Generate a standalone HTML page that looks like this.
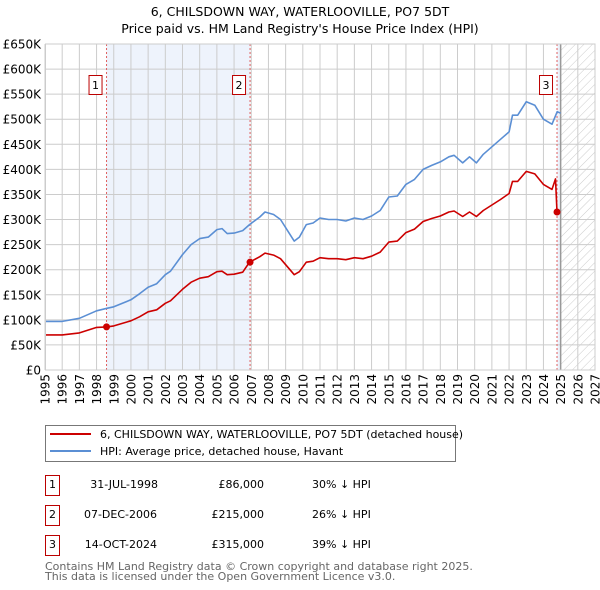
<!DOCTYPE html>
<html><head><meta charset="utf-8"><style>
body{margin:0;background:#fff;font-family:"DejaVu Sans","Liberation Sans",sans-serif;}
svg{display:block}
</style></head><body>
<svg width="600" height="590" xmlns="http://www.w3.org/2000/svg" font-family="DejaVu Sans, Liberation Sans, sans-serif">
<defs><pattern id="hatch" width="6" height="6" patternUnits="userSpaceOnUse" patternTransform="rotate(45)"><line x1="0" y1="0" x2="0" y2="6" stroke="#ccc" stroke-width="1"/></pattern></defs>
<text x="300" y="16" text-anchor="middle" font-size="12.5">6, CHILSDOWN WAY, WATERLOOVILLE, PO7 5DT</text>
<text x="300" y="33" text-anchor="middle" font-size="12.5">Price paid vs. HM Land Registry's House Price Index (HPI)</text>
<g id="plot"></g>
<g>
<rect x="45.5" y="425.5" width="410" height="36" fill="#fff" stroke="#777"/>
<line x1="50" y1="434" x2="91" y2="434" stroke="#cc0000" stroke-width="2"/>
<text x="100" y="438" font-size="11">6, CHILSDOWN WAY, WATERLOOVILLE, PO7 5DT (detached house)</text>
<line x1="50" y1="451" x2="91" y2="451" stroke="#5b8fd4" stroke-width="2"/>
<text x="100" y="455" font-size="11">HPI: Average price, detached house, Havant</text>
</g>
<g font-size="11">
<rect x="45.5" y="475.5" width="14" height="20" fill="#fff" stroke="#b00"/><text x="52.5" y="488" text-anchor="middle">1</text>
<text x="158" y="488" text-anchor="end">31-JUL-1998</text><text x="264" y="488" text-anchor="end">£86,000</text><text x="312" y="488">30% ↓ HPI</text>
<rect x="45.5" y="505.5" width="14" height="20" fill="#fff" stroke="#b00"/><text x="52.5" y="518" text-anchor="middle">2</text>
<text x="157" y="518" text-anchor="end">07-DEC-2006</text><text x="264" y="518" text-anchor="end">£215,000</text><text x="312" y="518">26% ↓ HPI</text>
<rect x="45.5" y="535.5" width="14" height="20" fill="#fff" stroke="#b00"/><text x="52.5" y="548" text-anchor="middle">3</text>
<text x="157" y="548" text-anchor="end">14-OCT-2024</text><text x="264" y="548" text-anchor="end">£315,000</text><text x="312" y="548">39% ↓ HPI</text>
</g>
<text x="45" y="570" font-size="11" fill="#666">Contains HM Land Registry data © Crown copyright and database right 2025.</text>
<text x="45" y="580" font-size="11" fill="#666">This data is licensed under the Open Government Licence v3.0.</text>
</svg>
<script>
const hpiYears=[1995,1996,1997,1998,1998.6,1999,2000,2000.5,2001,2001.5,2002,2002.3,2003,2003.5,2004,2004.5,2005,2005.3,2005.6,2006,2006.5,2006.9,2007.5,2007.8,2008.3,2008.7,2009.2,2009.5,2009.8,2010.2,2010.6,2011,2011.5,2012,2012.5,2013,2013.5,2014,2014.5,2015,2015.5,2016,2016.5,2017,2017.5,2018,2018.5,2018.8,2019.3,2019.7,2020.1,2020.5,2021,2021.5,2022,2022.2,2022.5,2023,2023.5,2024,2024.5,2024.8,2025];
const hpiValues=[97,97,103,118,123,126,140,152,165,172,190,197,230,250,262,265,280,282,272,273,278,290,305,315,310,300,273,257,265,290,293,303,300,300,297,303,300,307,318,345,347,370,380,400,408,415,425,428,413,425,413,430,445,460,475,508,508,535,528,500,490,515,512];
const priceYears=[1995,1996,1997,1998,1998.6,1999,2000,2000.5,2001,2001.5,2002,2002.3,2003,2003.5,2004,2004.5,2005,2005.3,2005.6,2006,2006.5,2006.9,2007.5,2007.8,2008.3,2008.7,2009.2,2009.5,2009.8,2010.2,2010.6,2011,2011.5,2012,2012.5,2013,2013.5,2014,2014.5,2015,2015.5,2016,2016.5,2017,2017.5,2018,2018.5,2018.8,2019.3,2019.7,2020.1,2020.5,2021,2021.5,2022,2022.2,2022.5,2023,2023.5,2024,2024.5,2024.7,2024.79];
const priceValues=[70,70,74,85,86,88,98,106,116,120,133,138,161,175,183,186,196,197,190,191,195,215,226,233,229,222,202,190,196,215,217,224,222,222,220,224,222,227,235,255,257,274,281,296,302,307,315,317,306,315,306,318,329,340,352,376,376,396,391,370,360,381,315];
const saleYears=[1998.58,2006.93,2024.79];
const saleValues=[86,215,315];
const saleLabels=["1","2","3"];
const yTicks=[0,50,100,150,200,250,300,350,400,450,500,550,600,650];
const yTickLabels=["£0","£50K","£100K","£150K","£200K","£250K","£300K","£350K","£400K","£450K","£500K","£550K","£600K","£650K"];
const xTicks=[1995,1996,1997,1998,1999,2000,2001,2002,2003,2004,2005,2006,2007,2008,2009,2010,2011,2012,2013,2014,2015,2016,2017,2018,2019,2020,2021,2022,2023,2024,2025,2026,2027];

const X0=45,X1=595,Y0=370,Y1=44;
const xs=y=>X0+(y-1995)*(X1-X0)/32;
const ys=v=>Y0-v*(Y0-Y1)/650;
const NS="http://www.w3.org/2000/svg";
const g=document.getElementById('plot');
function mk(t,a){const e=document.createElementNS(NS,t);for(const k in a)e.setAttribute(k,a[k]);g.appendChild(e);return e;}

let e;
e=mk('rect',{x:xs(saleYears[0]),y:Y1,width:xs(saleYears[1])-xs(saleYears[0]),height:Y0-Y1,fill:'#eef3fc'});


e=mk('rect',{x:xs(saleYears[2]),y:Y1,width:xs(2025)-xs(saleYears[2]),height:Y0-Y1,fill:'#eef3fc'});


e=mk('rect',{x:xs(2025),y:Y1,width:X1-xs(2025),height:Y0-Y1,fill:'url(#hatch)'});



yTicks.forEach((v,i)=>{
  const l=mk('line',{x1:X0,x2:X1,y1:ys(v),y2:ys(v),stroke:'#ccc','stroke-width':1});
  
  
  const t=mk('text',{x:41,y:ys(v)+4.5,'text-anchor':'end','font-size':12});
  t.textContent=yTickLabels[i];
  
  
});
xTicks.forEach(y=>{
  const l=mk('line',{x1:xs(y),x2:xs(y),y1:Y1,y2:Y0,stroke:'#ccc','stroke-width':1});
  
  
  const t=mk('text',{x:0,y:0,'text-anchor':'end','font-size':12,transform:`translate(${xs(y)+4.5},374) rotate(-90)`});
  t.textContent=y;
  
  
});
e=mk('line',{x1:xs(2025),x2:xs(2025),y1:Y1,y2:Y0,stroke:'#999','stroke-width':1.5});



saleYears.forEach((y,i)=>{
  const l=mk('line',{x1:xs(y),x2:xs(y),y1:Y1,y2:Y0,stroke:'#e06060','stroke-width':1,'stroke-dasharray':'2,2'});
  
  
});

function path(xa,va,col,name){
  const d=xa.map((x,i)=>(i?'L':'M')+xs(x).toFixed(1)+','+ys(va[i]).toFixed(1)).join('');
  const p=mk('path',{d,fill:'none',stroke:col,'stroke-width':1.6,'stroke-linejoin':'round'});
  
  
}
path(hpiYears,hpiValues,'#5b8fd4','hpi-line');
path(priceYears,priceValues,'#cc0000','price-paid-line');

saleYears.forEach((y,i)=>{
  const c=mk('circle',{cx:xs(y),cy:ys(saleValues[i]),r:3.5,fill:'#cc0000'});
  
  
  const r=mk('rect',{x:xs(y)-17.5,y:75.5,width:13,height:19,fill:'#fff',stroke:'#b00'});
  
  
  const t=mk('text',{x:xs(y)-11,y:89,'text-anchor':'middle','font-size':11});
  t.textContent=saleLabels[i];
  
  
});
e=mk('rect',{x:X0+0.5,y:Y1,width:X1-X0-0.5,height:Y0-Y1,fill:'none',stroke:'#ccc'});


</script>
</body></html>
